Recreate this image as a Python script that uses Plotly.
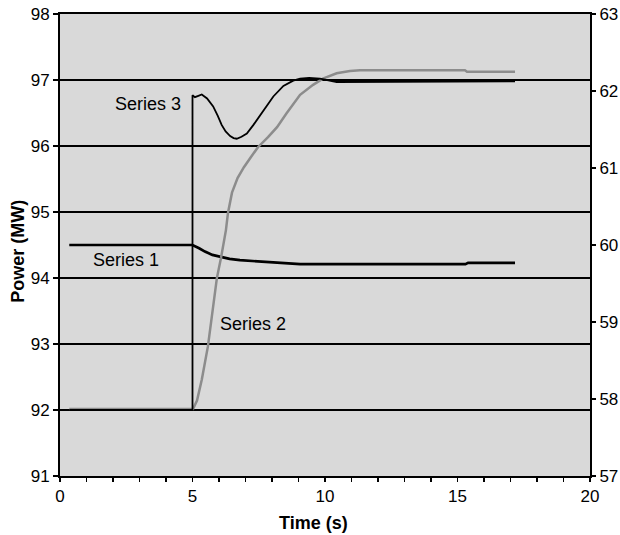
import plotly.graph_objects as go

# ---- data ----
# Series 1 (left axis, MW)
s1_t = [0.35, 5.0, 5.25, 5.47, 5.75, 6.04, 6.4, 6.79, 7.3, 7.81, 9.06, 10.94, 15.3, 15.4, 17.17]
s1_v = [94.5, 94.5, 94.45, 94.40, 94.35, 94.32, 94.29, 94.27, 94.255, 94.24, 94.21, 94.21, 94.21, 94.23, 94.23]

# Series 3 (left axis, MW)
s3_t = [0.35, 5.0, 5.0, 5.09, 5.22, 5.35, 5.55, 5.78, 5.95, 6.10, 6.25, 6.42, 6.55, 6.67, 6.85, 7.05, 7.3, 7.55, 7.8, 8.05, 8.43, 8.80, 9.06, 9.4, 9.81, 10.44, 17.17]
s3_v = [92.0, 92.0, 96.77, 96.74, 96.76, 96.78, 96.72, 96.60, 96.46, 96.32, 96.22, 96.15, 96.12, 96.11, 96.14, 96.19, 96.32, 96.47, 96.62, 96.75, 96.91, 96.99, 97.02, 97.03, 97.02, 96.97, 96.98]

# Series 2 (right axis)
s2_t = [0.35, 5.02, 5.17, 5.35, 5.58, 5.92, 6.08, 6.26, 6.34, 6.49, 6.7, 6.94, 7.2, 7.47, 7.85, 8.19, 8.55, 9.06, 9.55, 9.92, 10.44, 10.94, 11.32, 15.28, 15.36, 17.17]
s2_v = [57.87, 57.87, 57.98, 58.25, 58.68, 59.57, 59.84, 60.19, 60.42, 60.68, 60.87, 61.01, 61.14, 61.27, 61.40, 61.53, 61.71, 61.95, 62.08, 62.16, 62.23, 62.26, 62.27, 62.27, 62.25, 62.25]

x_ticks = [0, 5, 10, 15, 20]
y_left_ticks = [91, 92, 93, 94, 95, 96, 97, 98]
y_right_ticks = [57, 58, 59, 60, 61, 62, 63]

labels = ["Series 3", "Series 1", "Series 2"]
label_t = [4.64, 2.5, 7.28]
label_v = [96.63, 94.27, 93.30]

FONT = "Liberation Sans, Arial, sans-serif"
LEFT_RANGE = [91, 98]
RIGHT_RANGE = [57, 63]

fig = go.Figure()
fig.add_trace(go.Scatter(x=s1_t, y=s1_v, mode="lines", line=dict(color="black", width=2.7),
                         xaxis="x", yaxis="y", showlegend=False, hoverinfo="skip"))
fig.add_trace(go.Scatter(x=s2_t, y=s2_v, mode="lines", line=dict(color="#8c8c8c", width=2.5),
                         xaxis="x", yaxis="y2", showlegend=False, hoverinfo="skip"))
# Series 3 is drawn on a hidden overlay of the left axis so it sits above the grey line
fig.add_trace(go.Scatter(x=s3_t, y=s3_v, mode="lines", line=dict(color="black", width=1.8),
                         xaxis="x", yaxis="y3", showlegend=False, hoverinfo="skip"))

tickfont = dict(family=FONT, size=17, color="black")

fig.update_layout(
    width=620, height=535, autosize=False,
    margin=dict(l=60, r=30, t=14, b=59),
    paper_bgcolor="white", plot_bgcolor="#d9d9d9",
    font=dict(family=FONT, size=17, color="black"),
    hovermode=False,
    xaxis=dict(range=[0, 20], tickmode="array", tickvals=x_ticks, ticks="outside", ticklen=4,
               tickwidth=1.5, tickcolor="black", tickfont=tickfont, automargin=False, ticklabeloverflow="allow",
               minor=dict(dtick=1, ticks="outside", ticklen=4, tickwidth=1.5, tickcolor="black", showgrid=False),
               showline=True, linewidth=2, linecolor="black", mirror=True,
               showgrid=False, zeroline=False),
    xaxis3=dict(range=[0, 20], overlaying="x", anchor="y", side="bottom", tickmode="array", tickvals=x_ticks,
                ticks="inside", ticklen=4, tickwidth=1.5, tickcolor="black", showticklabels=False, automargin=False,
                minor=dict(dtick=1, ticks="inside", ticklen=4, tickwidth=1.5, tickcolor="black", showgrid=False),
                showline=False, showgrid=False, zeroline=False),
    yaxis=dict(range=LEFT_RANGE, tickmode="array", tickvals=y_left_ticks, ticks="outside", ticklen=5,
               tickwidth=1.5, tickcolor="black", tickfont=tickfont, automargin=False, ticklabeloverflow="allow",
               showgrid=True, gridcolor="black", gridwidth=1.5,
               showline=True, linewidth=2, linecolor="black", zeroline=False),
    yaxis2=dict(range=RIGHT_RANGE, tickmode="array", tickvals=y_right_ticks, overlaying="y", side="right", anchor="x",
                ticks="outside", ticklen=4, tickwidth=1.5, tickcolor="black", tickfont=tickfont, automargin=False,
                ticklabeloverflow="allow",
                showgrid=False, showline=True, linewidth=2, linecolor="black", zeroline=False),
    yaxis3=dict(range=LEFT_RANGE, overlaying="y", side="left", anchor="x", visible=False,
                showgrid=False, zeroline=False, automargin=False),
    yaxis4=dict(range=RIGHT_RANGE, tickmode="array", tickvals=y_right_ticks, overlaying="y", side="right", anchor="x",
                ticks="inside", ticklen=4, tickwidth=1.5, tickcolor="black", showticklabels=False, automargin=False,
                showgrid=False, showline=False, zeroline=False),
)

for txt, t, v in zip(labels, label_t, label_v):
    xanchor = "right" if txt == "Series 3" else "center"
    fig.add_annotation(x=t, y=v, xref="x", yref="y", text=txt, showarrow=False,
                       xanchor=xanchor, yanchor="middle", font=dict(family=FONT, size=18, color="black"))

fig.add_annotation(x=-0.079, y=0.4855, xref="paper", yref="paper", text="<b>Power (MW)</b>", textangle=-90,
                   showarrow=False, xanchor="center", yanchor="middle", font=dict(family=FONT, size=18, color="black"))
fig.add_annotation(x=0.479, y=-0.1017, xref="paper", yref="paper", text="<b>Time (s)</b>",
                   showarrow=False, xanchor="center", yanchor="middle", font=dict(family=FONT, size=18, color="black"))

# remove the page's default 8px body margin so the 620x535 figure fills the window exactly
fig.write_html("out.html", config={"displayModeBar": False, "staticPlot": True},
               post_script="document.body.style.margin='0px';")
